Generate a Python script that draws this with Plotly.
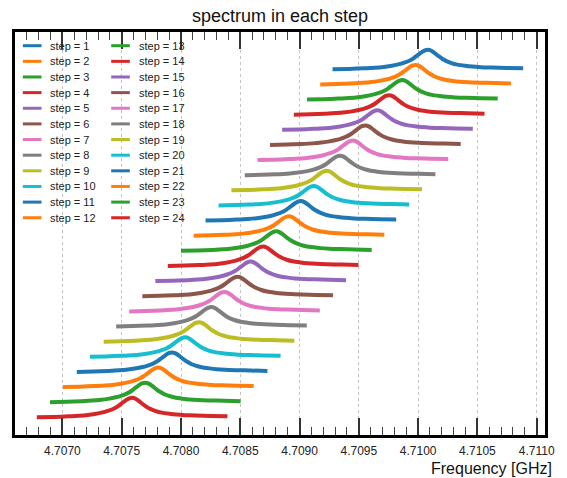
import plotly.graph_objects as go

# Resonance peak frequency of each step [GHz]
steps = list(range(1, 25))
peak_ghz = [
    4.710082, 4.709978, 4.709867, 4.709756, 4.709657, 4.709555,
    4.709450, 4.709342, 4.709229, 4.709121, 4.709011, 4.708911,
    4.708804, 4.708693, 4.708588, 4.708478, 4.708367, 4.708257,
    4.708152, 4.708036, 4.707925, 4.707809, 4.707699, 4.707588,
]

# Measured line profile around the peak: frequency offset [GHz] and normalised amplitude
profile_offset_ghz = [
    -0.000804, -0.000663, -0.000539, -0.000447, -0.000373, -0.000315,
    -0.000249, -0.000199, -0.000157, -0.000124, -0.000091, -0.000058,
    -0.000029, 0.0, 0.000029, 0.000058, 0.000091, 0.000124,
    0.000157, 0.000199, 0.000249, 0.000315, 0.000373, 0.000447,
    0.000539, 0.000663, 0.000804,
]
profile_amp = [
    0.00, 0.02, 0.05, 0.08, 0.12, 0.17,
    0.25, 0.34, 0.44, 0.55, 0.70, 0.85,
    0.96, 1.00, 0.95, 0.83, 0.67, 0.53,
    0.42, 0.32, 0.24, 0.18, 0.14, 0.11,
    0.09, 0.07, 0.05,
]

# x-axis ticks
tick_vals = [4.7070, 4.7075, 4.7080, 4.7085, 4.7090, 4.7095, 4.7100, 4.7105, 4.7110]
tick_text = ["4.7070", "4.7075", "4.7080", "4.7085", "4.7090", "4.7095", "4.7100", "4.7105", "4.7110"]

# vertical spacing between successive spectra (waterfall offset)
STEP_OFFSET = 0.776
COLORS = ["#1f77b4", "#ff7f0e", "#2ca02c", "#d62728", "#9467bd",
          "#8c564b", "#e377c2", "#7f7f7f", "#bcbd22", "#17becf"]
FONT = "Liberation Sans, Arial, Helvetica, sans-serif"
X_RANGE = [4.7066, 4.71107]

W, H = 567, 478
ML, MR, MT, MB = 15, 12, 32, 43
PW, PH = W - ML - MR, H - MT - MB

fig = go.Figure()
n = len(steps)
for i, (s, f0) in enumerate(zip(steps, peak_ghz)):
    xs = [f0 + d for d in profile_offset_ghz]
    ys = [a + STEP_OFFSET * (n - s) for a in profile_amp]
    fig.add_trace(go.Scatter(
        x=xs, y=ys, mode="lines", name=f"step = {s}",
        line=dict(color=COLORS[i % 10], width=4, shape="spline", smoothing=0.6),
        showlegend=False, hoverinfo="x+name",
    ))

# two-column legend drawn inside the upper-left corner of the axes
shapes = []
annotations = []
row_h = 15.64
for i, s in enumerate(steps):
    col, row = divmod(i, 12)
    py = 45.7 + row * row_h
    yp = (H - MB - py) / PH
    lx0 = 23 + col * 90
    shapes.append(dict(
        type="line", xref="paper", yref="paper",
        x0=(lx0 - ML) / PW, x1=(lx0 + 19 - ML) / PW, y0=yp, y1=yp,
        line=dict(color=COLORS[i % 10], width=3),
    ))
    annotations.append(dict(
        text=f"step = {s}", xref="paper", yref="paper",
        x=(lx0 + 26 - ML) / PW, y=yp, xanchor="left", yanchor="middle",
        showarrow=False, font=dict(family=FONT, size=11, color="#222"),
    ))

# axis label, right-aligned below the tick labels
annotations.append(dict(
    text="Frequency [GHz]", xref="paper", yref="paper", x=1, y=0,
    xanchor="right", yanchor="top", xshift=9, yshift=-23,
    showarrow=False, font=dict(family=FONT, size=16, color="#111"),
))

minor_ticks = dict(dtick=0.0001, ticks="inside", ticklen=8, tickwidth=1.2,
                   tickcolor="#444", showgrid=False)

fig.update_layout(
    width=W, height=H,
    margin=dict(l=ML, r=MR, t=MT, b=MB),
    paper_bgcolor="white", plot_bgcolor="white",
    title=dict(text="spectrum in each step", x=0.5, xref="paper",
               y=1 - 15.5 / H, yref="container", yanchor="middle",
               font=dict(family=FONT, size=18, color="#111")),
    showlegend=False,
    shapes=shapes,
    annotations=annotations,
    xaxis=dict(
        range=X_RANGE,
        tickmode="array", tickvals=tick_vals, ticktext=tick_text,
        ticks="inside", ticklen=17, tickwidth=1.5, tickcolor="#333",
        minor=minor_ticks,
        showgrid=True, gridcolor="#c4c4c4", griddash="dot", gridwidth=1,
        showline=True, linecolor="black", linewidth=3, mirror="ticks",
        tickfont=dict(family=FONT, size=12, color="#222"),
        ticklabelstandoff=3,
        zeroline=False,
    ),
    yaxis=dict(
        range=[-0.908, 19.76],
        showticklabels=False, ticks="", showgrid=False, zeroline=False,
        showline=True, linecolor="black", linewidth=3, mirror=True,
    ),
)

fig.write_html("out.html")
